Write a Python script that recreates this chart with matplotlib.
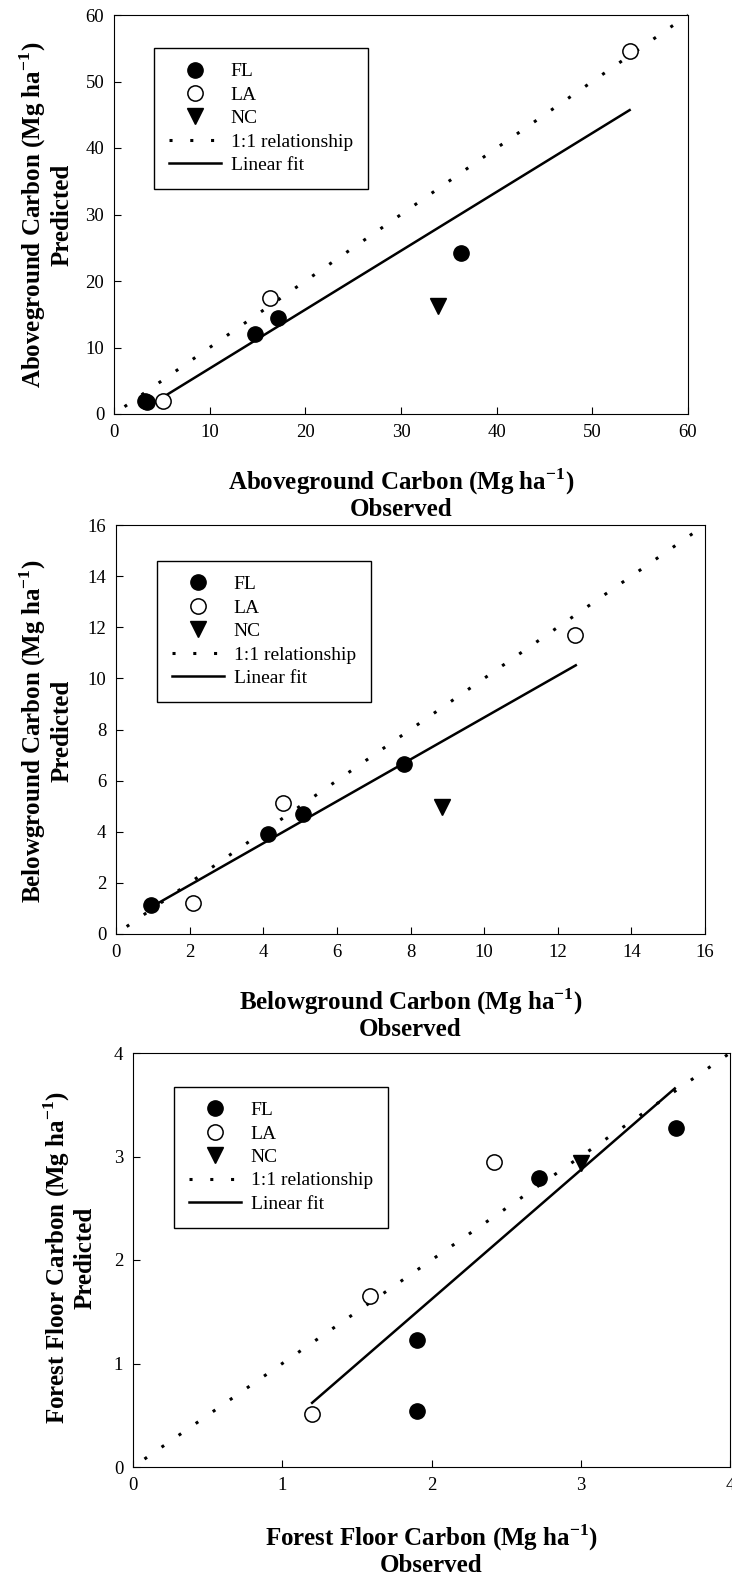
import matplotlib
matplotlib.use("Agg")
import matplotlib.pyplot as plt
import numpy as np

plt.rcParams['font.family'] = ['Liberation Serif', 'DejaVu Serif']
plt.rcParams['mathtext.fontset'] = 'custom'
plt.rcParams['mathtext.rm'] = 'Liberation Serif'
plt.rcParams['mathtext.bf'] = 'Liberation Serif:bold'
plt.rcParams['axes.unicode_minus'] = False

# Aboveground carbon (observed, predicted)
ag_fl_obs = [3.2, 3.4, 14.7, 17.1, 36.3]
ag_fl_pred = [2.0, 1.8, 12.0, 14.5, 24.2]
ag_la_obs = [5.1, 16.3, 53.9]
ag_la_pred = [1.9, 17.5, 54.6]
ag_nc_obs = [33.9]
ag_nc_pred = [16.2]
ag_fit = (0.885, -2.0)
ag_fit_range = (3.3, 53.9)

# Belowground carbon
bg_fl_obs = [0.96, 4.12, 5.09, 7.81]
bg_fl_pred = [1.15, 3.92, 4.70, 6.66]
bg_la_obs = [2.10, 4.54, 12.46]
bg_la_pred = [1.21, 5.12, 11.71]
bg_nc_obs = [8.85]
bg_nc_pred = [4.97]
bg_fit = (0.82, 0.27)
bg_fit_range = (0.96, 12.49)

# Forest floor carbon
ff_fl_obs = [1.90, 1.90, 2.72, 3.64]
ff_fl_pred = [0.54, 1.23, 2.79, 3.28]
ff_la_obs = [1.20, 1.59, 2.42]
ff_la_pred = [0.51, 1.65, 2.95]
ff_nc_obs = [3.00]
ff_nc_pred = [2.94]
ff_fit = (1.25, -0.88)
ff_fit_range = (1.20, 3.63)

W, H = 732, 1579


def px_axes(fig, left, right, top, bottom):
    return fig.add_axes([left / W, 1 - bottom / H, (right - left) / W, (bottom - top) / H])


def draw_panel(ax, name, fl, la, nc, fit, fit_range, vmax, step, line_start,
               leg_xy, ylab_xy, xlab_y):
    lim = np.array([line_start, vmax])
    ax.plot(lim, lim, color='black', lw=2.2, linestyle=(0, (1, 5.8)), label='1:1 relationship',
            zorder=1, clip_on=False)
    xs = np.array(fit_range)
    ax.plot(xs, fit[0] * xs + fit[1], color='black', lw=1.8, label='Linear fit', zorder=2)
    ax.plot(fl[0], fl[1], 'o', color='black', ms=11, ls='none', label='FL', zorder=3)
    ax.plot(la[0], la[1], 'o', mfc='white', mec='black', mew=1.1, ms=11, ls='none', label='LA', zorder=3)
    ax.plot(nc[0], nc[1], 'v', color='black', ms=11, ls='none', label='NC', zorder=3)

    ax.set_xlim(0, vmax)
    ax.set_ylim(0, vmax)
    ticks = np.arange(0, vmax + step / 2, step)
    ax.set_xticks(ticks)
    ax.set_yticks(ticks)
    ax.set_xticklabels([f"{t:g}" for t in ticks])
    ax.set_yticklabels([f"{t:g}" for t in ticks])
    ax.tick_params(direction='in', length=5, labelsize=13.5, pad=7)

    unit = r" (Mg ha$^{\mathregular{-1}}$)"
    ax.set_xlabel(name + unit + "\nObserved", fontsize=18, fontweight='bold', linespacing=1.05)
    ax.xaxis.label.set_va('center')
    ax.xaxis.set_label_coords(0.5, xlab_y)
    ax.set_ylabel(name + unit + "\nPredicted", fontsize=18, fontweight='bold', linespacing=1.12)
    ax.yaxis.label.set_va('center')
    ax.yaxis.set_label_coords(ylab_xy[0], ylab_xy[1])

    handles, labels = ax.get_legend_handles_labels()
    order = [2, 3, 4, 0, 1]
    leg = ax.legend([handles[i] for i in order], [labels[i] for i in order],
                    loc='upper left', bbox_to_anchor=leg_xy, fontsize=14, numpoints=1,
                    frameon=True, fancybox=False, edgecolor='black', framealpha=1,
                    borderpad=0.75, labelspacing=0.3, handlelength=2.7, handletextpad=0.5,
                    borderaxespad=0)
    leg.get_frame().set_linewidth(1)


fig = plt.figure(figsize=(W / 100, H / 100), dpi=100)

ax1 = px_axes(fig, 114, 688, 15, 414)
draw_panel(ax1, "Aboveground Carbon", (ag_fl_obs, ag_fl_pred), (ag_la_obs, ag_la_pred),
           (ag_nc_obs, ag_nc_pred), ag_fit, ag_fit_range, 60, 10, 1.1,
           (0.0697, 0.917), (-0.119, 0.5), -0.199)

ax2 = px_axes(fig, 116, 705, 525, 934)
draw_panel(ax2, "Belowground Carbon", (bg_fl_obs, bg_fl_pred), (bg_la_obs, bg_la_pred),
           (bg_nc_obs, bg_nc_pred), bg_fit, bg_fit_range, 16, 2, 0.29,
           (0.0696, 0.912), (-0.12, 0.496), -0.194)

ax3 = px_axes(fig, 133, 730, 1053, 1467)
draw_panel(ax3, "Forest Floor Carbon", (ff_fl_obs, ff_fl_pred), (ff_la_obs, ff_la_pred),
           (ff_nc_obs, ff_nc_pred), ff_fit, ff_fit_range, 4, 1, 0.077,
           (0.0687, 0.918), (-0.107, 0.505), -0.2)

fig.savefig("out.png", dpi=100)
